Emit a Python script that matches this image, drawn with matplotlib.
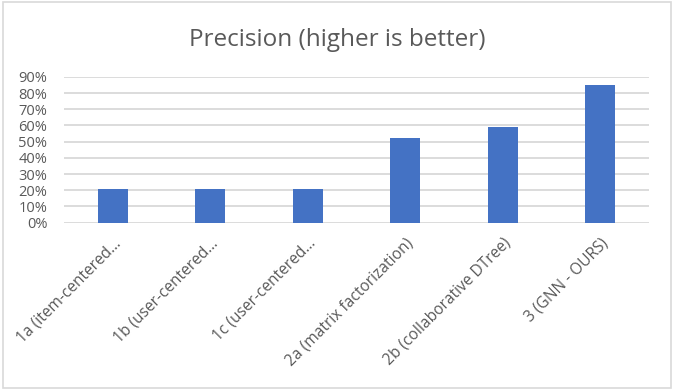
import matplotlib.pyplot as plt
from matplotlib.patches import Rectangle
from matplotlib.ticker import PercentFormatter

# chart data
labels = ['1a (item-centered...', '1b (user-centered...', '1c (user-centered...',
          '2a (matrix factorization)', '2b (collaborative DTree)', '3 (GNN - OURS)']
precision = [0.21, 0.21, 0.21, 0.52, 0.59, 0.85]
yticks = [0, 0.1, 0.2, 0.3, 0.4, 0.5, 0.6, 0.7, 0.8, 0.9]

text_color = '#595959'
plt.rcParams['font.family'] = ['Open Sans', 'DejaVu Sans']

fig = plt.figure(figsize=(6.74, 3.9), dpi=100)
ax = fig.add_axes([0.095, 0.429, 0.868, 0.374])

x = range(len(labels))
ax.bar(x, precision, width=0.31, color='#4472c4', zorder=3)

ax.set_ylim(0, 0.9)
ax.set_xlim(-0.5, len(labels) - 0.5)
ax.set_yticks(yticks)
ax.yaxis.set_major_formatter(PercentFormatter(1.0, decimals=0))
ax.set_xticks(list(x))
ax.set_xticklabels(labels, rotation=45, ha='right', rotation_mode='anchor')
ax.tick_params(axis='both', length=0, colors=text_color)
ax.tick_params(axis='y', pad=12, labelsize=10.5)
ax.tick_params(axis='x', pad=9, labelsize=11.2)

ax.grid(axis='y', color='#d9d9d9', linewidth=1.3, zorder=0)
for s in ax.spines.values():
    s.set_visible(False)

fig.text(0.5, 0.898, 'Precision (higher is better)', ha='center', va='center',
         fontsize=17.5, color=text_color)

# light border around the chart
fig.patches.append(Rectangle((0.005, 0.006), 0.99, 0.988, transform=fig.transFigure,
                             fill=False, edgecolor='#d9d9d9', linewidth=1.2))

fig.savefig('out.png', dpi=100)
